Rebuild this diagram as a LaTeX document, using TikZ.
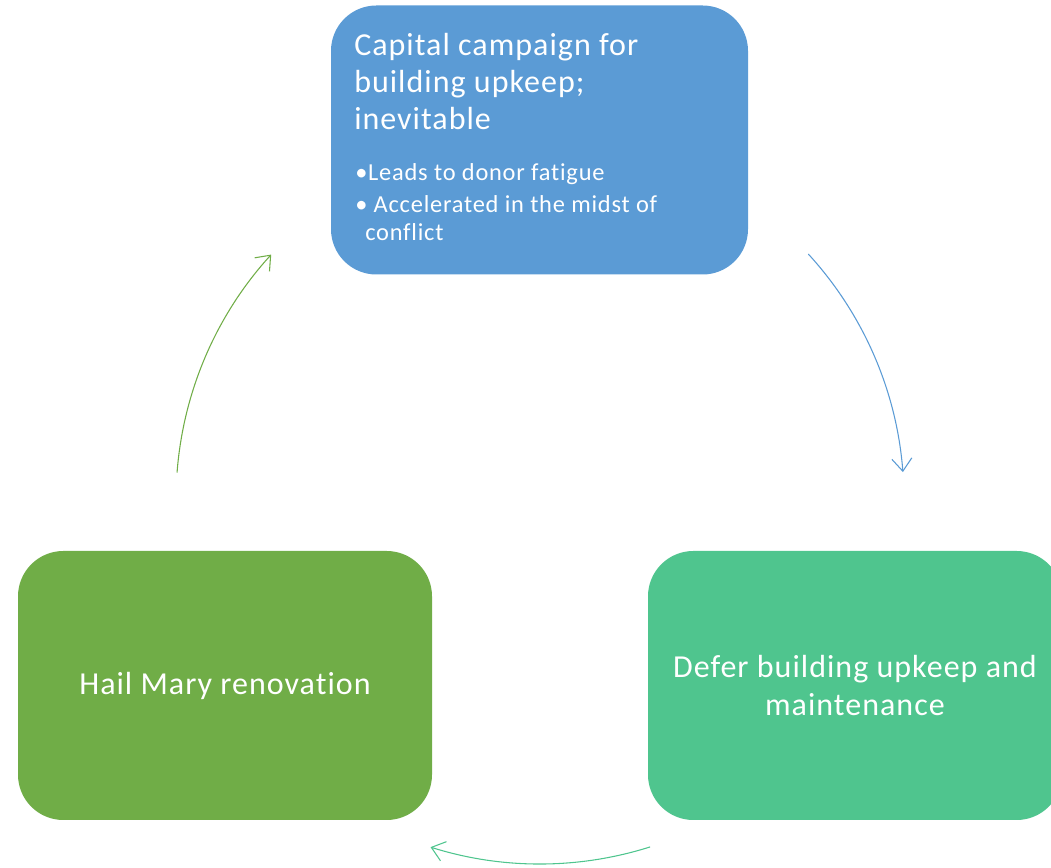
\documentclass[tikz,border=0pt]{standalone}
\usepackage{fontspec}
\setmainfont{Carlito}[LetterSpace=3.2, Ligatures=NoCommon]
\usetikzlibrary{arrows.meta}
\definecolor{capblue}{HTML}{5B9BD5}
\definecolor{defergreen}{HTML}{4FC58E}
\definecolor{hailgreen}{HTML}{70AD47}
\tikzset{
  stage/.style={rounded corners=34pt, minimum width=310.5pt, minimum height=201.75pt, inner sep=0pt,
    text=white, align=center, font=\fontsize{24}{28.5}\selectfont},
  flow/.style={line width=0.8pt, -{Straight Barb[length=9.5pt,width=15pt]}}
}
\begin{document}
\begin{tikzpicture}[x=0.75pt,y=0.75pt]
\useasboundingbox (0,0) rectangle (1051,868);

\node[stage, fill=capblue, minimum width=312.75pt] (campaign) at (539.5,728) {};
\node[anchor=base west, inner sep=0pt, text=white, align=left, font=\fontsize{24}{28}\selectfont] (campaigntitle) at (354,738)
  {Capital campaign for\\ building upkeep;\\ inevitable};
\node[anchor=base west, inner sep=0pt, text=white, align=left, font=\fontsize{18.3}{21}\selectfont] (campaignnotes) at (355,627)
  {\textbullet Leads to donor fatigue\\[3.5pt] \textbullet\ Accelerated in the midst of\\ \hspace*{7.5pt}conflict};
\node[stage, fill=defergreen] (defer) at (855,182.5) {Defer building upkeep and\\ maintenance};
\node[stage, fill=hailgreen] (hail) at (225,182.5) {Hail Mary renovation};

\coordinate (hub) at (540,368);
\foreach \a/\b/\c in {42.5/4.4/capblue, -72.4/-107.5/defergreen, 175.7/137.6/hailgreen}
  \draw[flow, \c] ([shift={(\a:273pt)}]hub) arc[start angle=\a, end angle=\b, radius=273pt];
\end{tikzpicture}
\end{document}
